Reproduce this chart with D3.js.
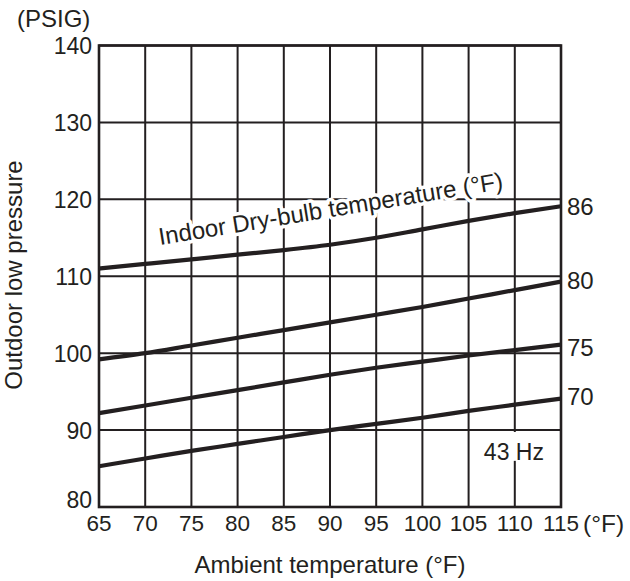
<!DOCTYPE html>
<html>
<head>
<meta charset="utf-8">
<script src="https://cdn.jsdelivr.net/npm/d3@7"></script>
<style>
  html, body { margin: 0; padding: 0; background: #fff; }
  svg { display: block; }
  text { font-family: "Liberation Sans", Arial, Helvetica, sans-serif; fill: #231f20; }
</style>
</head>
<body>
<svg id="chart" width="630" height="581"></svg>
<script>
// ---- data ----
const ambientTemps = [65, 70, 75, 80, 85, 90, 95, 100, 105, 110, 115];
const xTickLabels = ["65", "70", "75", "80", "85", "90", "95", "100", "105", "110", "115"];
const yTickValues = [80, 90, 100, 110, 120, 130, 140];
const seriesNames = ["86", "80", "75", "70"];
const indoor86 = [111.0, 111.6, 112.2, 112.8, 113.4, 114.1, 115.0, 116.1, 117.2, 118.2, 119.1];
const indoor80 = [99.2, 100.0, 101.0, 102.0, 103.0, 104.0, 105.0, 106.0, 107.1, 108.2, 109.3];
const indoor75 = [92.2, 93.2, 94.2, 95.2, 96.2, 97.2, 98.1, 98.9, 99.7, 100.4, 101.1];
const indoor70 = [85.3, 86.3, 87.3, 88.2, 89.1, 90.0, 90.8, 91.6, 92.5, 93.3, 94.1];
const xUnit = "(°F)";
const yUnit = "(PSIG)";
const xTitle = "Ambient temperature (°F)";
const yTitle = "Outdoor low pressure";
const annotation = "Indoor Dry-bulb temperature (°F)";
const freqLabel = "43 Hz";

const series = [indoor86, indoor80, indoor75, indoor70];

(function () {
// ---- layout ----
const svg = d3.select("#chart");
const pL = 99, pR = 561, pT = 45.5, pB = 507;
const x = d3.scaleLinear().domain([65, 115]).range([pL, pR]);
const y = d3.scaleLinear().domain([80, 140]).range([pB, pT]);
const ink = "#231f20";

// grid
const grid = svg.append("g");
grid.selectAll("line.v").data(ambientTemps).join("line")
  .attr("class", "v")
  .attr("x1", d => x(d)).attr("x2", d => x(d))
  .attr("y1", pT).attr("y2", pB)
  .attr("stroke", ink).attr("stroke-width", 2);
grid.selectAll("line.h").data(yTickValues).join("line")
  .attr("class", "h")
  .attr("x1", pL).attr("x2", pR)
  .attr("y1", d => y(d)).attr("y2", d => y(d))
  .attr("stroke", ink).attr("stroke-width", 2);

// frame
svg.append("rect").attr("x", pL).attr("y", pT)
  .attr("width", pR - pL).attr("height", pB - pT)
  .attr("fill", "none").attr("stroke", ink).attr("stroke-width", 2.6);

// curves
const line = d3.line().x((d, i) => x(ambientTemps[i])).y(d => y(d)).curve(d3.curveMonotoneX);
svg.append("g").selectAll("path").data(series).join("path")
  .attr("d", d => line(d))
  .attr("fill", "none").attr("stroke", ink).attr("stroke-width", 4.2);

// 43 Hz label box
svg.append("rect")
  .attr("x", x(106.3)).attr("y", y(89.75))
  .attr("width", x(113.6) - x(106.3)).attr("height", y(86.0) - y(89.75))
  .attr("fill", "#fff");
svg.append("text").attr("x", x(106.65)).attr("y", y(86.1))
  .attr("font-size", 23).text(freqLabel);

// annotation with white halo
svg.append("text")
  .attr("transform", `translate(160,${y(114.05)}) rotate(-9.3)`)
  .attr("font-size", 24)
  .attr("stroke", "#fff").attr("stroke-width", 7).attr("paint-order", "stroke")
  .attr("stroke-linejoin", "round")
  .text(annotation);

// right labels
const labelDy = [9, 7, 11, 6];
svg.append("g").selectAll("text").data(series).join("text")
  .attr("x", pR + 6)
  .attr("y", (d, i) => y(d[d.length - 1]) + labelDy[i])
  .attr("font-size", 24)
  .text((d, i) => seriesNames[i]);

// y tick labels
svg.append("g").selectAll("text").data(yTickValues).join("text")
  .attr("x", pL - 7)
  .attr("y", d => y(d) + (d === 80 ? 1 : 8.5))
  .attr("text-anchor", "end")
  .attr("font-size", 23)
  .text(d => d);

// x tick labels
svg.append("g").selectAll("text").data(ambientTemps).join("text")
  .attr("x", d => x(d))
  .attr("y", pB + 24)
  .attr("text-anchor", "middle")
  .attr("font-size", 22.5)
  .text((d, i) => xTickLabels[i]);
svg.append("text").attr("x", x(115) + 22).attr("y", pB + 24.5)
  .attr("font-size", 24.5).text(xUnit);

// axis titles
svg.append("text").attr("x", (pL + pR) / 2).attr("y", 573)
  .attr("text-anchor", "middle").attr("font-size", 24).text(xTitle);
svg.append("text")
  .attr("transform", `translate(22,275) rotate(-90)`)
  .attr("text-anchor", "middle").attr("font-size", 24).text(yTitle);
svg.append("text").attr("x", 17).attr("y", 27)
  .attr("font-size", 24).text(yUnit);
})();
</script>
</body>
</html>
